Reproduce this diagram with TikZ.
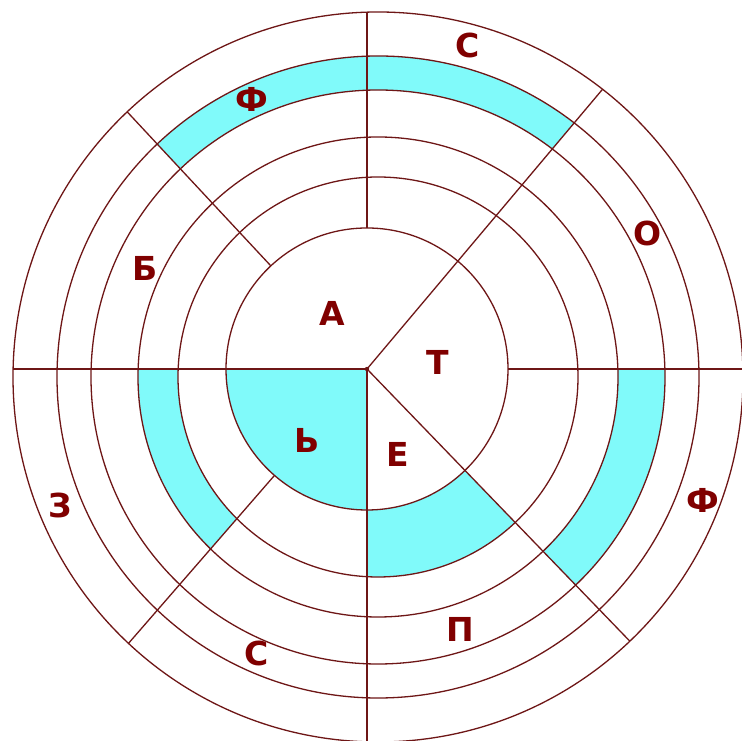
\documentclass[tikz,border=0pt]{standalone}
\usepackage{fontspec}
\usetikzlibrary{calc}
\newfontfamily\puzfont{DejaVu Sans}
\definecolor{PuzLine}{HTML}{6E1616}
\definecolor{PuzText}{HTML}{800000}
\definecolor{PuzCyan}{HTML}{80FAFA}
\begin{document}
\begin{tikzpicture}[x=1pt,y=1pt,
    ring/.style={draw=PuzLine,line width=1.3pt},
    ray/.style={draw=PuzLine,line width=1.3pt},
    band/.style={fill=PuzCyan,even odd rule},
    letter/.style={text=PuzText,inner sep=0pt,font=\puzfont\bfseries\fontsize{33}{33}\selectfont}
  ]
  \useasboundingbox[fill=white] (0,0) rectangle (742,741);
  \coordinate (C) at (367,372);
  \coordinate (O) at (378,364);
  % painted cells
  \begin{scope}
    \clip (C) -- ++(49.9:600) arc[start angle=49.9,end angle=133,radius=600] -- cycle;
    \fill[band] (O) circle (321) (O) circle (287);
  \end{scope}
  \begin{scope}
    \clip (C) -- ++(-46:600) arc[start angle=-46,end angle=0,radius=600] -- cycle;
    \fill[band] (O) circle (287) (O) circle (240);
  \end{scope}
  \begin{scope}
    \clip (C) -- ++(-90:600) arc[start angle=-90,end angle=-46,radius=600] -- cycle;
    \fill[band] (O) circle (200) (C) circle (141);
  \end{scope}
  \begin{scope}
    \clip (C) -- ++(180:600) arc[start angle=180,end angle=229,radius=600] -- cycle;
    \fill[band] (O) circle (240) (O) circle (200);
  \end{scope}
  \fill[PuzCyan] (C) -- ++(180:141) arc[start angle=180,end angle=270,radius=141] -- cycle;
  % rings
  \draw[ring] (C) circle (141);
  \foreach \r in {200,240,287,321,365}
    \draw[ring] (O) circle (\r);
  % spokes
  \begin{scope}
    \clip (O) circle (365);
    \foreach \a in {0,90,133,229}
      \draw[ray] ($(C)+(\a:141)$) -- ($(C)+(\a:420)$);
    \foreach \a in {49.9,180,270,-46}
      \draw[ray] (C) -- ($(C)+(\a:420)$);
  \end{scope}
  \fill[PuzLine] (C) circle (2.2);
  % letters
  \node[letter] (s1) at (468,696) {С};
  \node[letter] (f1) at (252,642) {Ф};
  \node[letter] (o1) at (648,508) {О};
  \node[letter] (b1) at (145,473) {Б};
  \node[letter] (a1) at (332,428) {А};
  \node[letter] (t1) at (438,379) {Т};
  \node[letter] (mz) at (307,301) {Ь};
  \node[letter] (e1) at (398,287) {Е};
  \node[letter] (f2) at (703,241) {Ф};
  \node[letter] (z1) at (60,236) {З};
  \node[letter] (p1) at (460,112) {П};
  \node[letter] (s2) at (257,88) {С};
\end{tikzpicture}
\end{document}
